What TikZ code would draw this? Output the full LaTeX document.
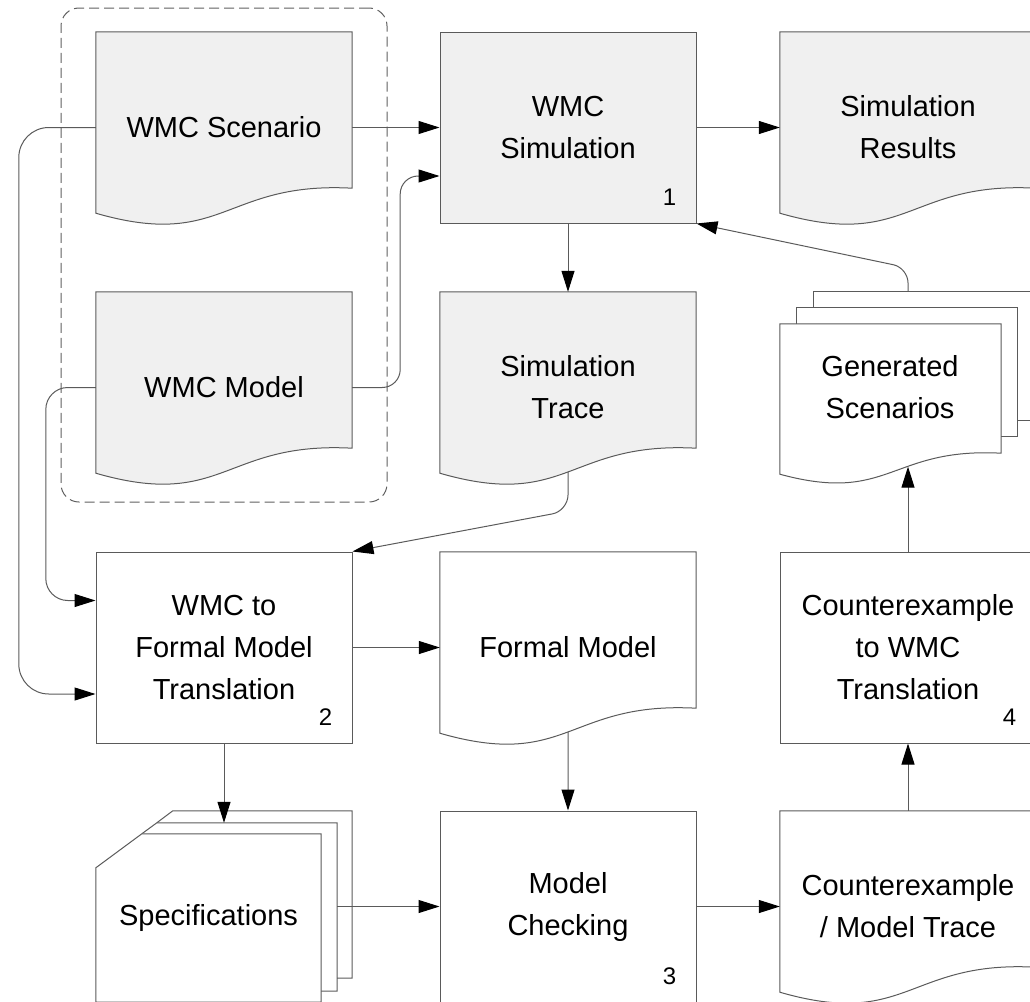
\documentclass[tikz,border=0pt]{standalone}
\usepackage{fontspec}
\setmainfont{Liberation Sans}
\usetikzlibrary{arrows.meta}

\definecolor{boxfill}{HTML}{F0F0F0}
\definecolor{edge}{HTML}{5A5A5A}
\definecolor{groupline}{HTML}{606060}

\pgfdeclarelayer{bg}
\pgfsetlayers{bg,main}

\tikzset{
  block/.style={minimum width=256pt, minimum height=191pt, inner sep=0pt,
    align=center, text=black, font=\fontsize{29}{42}\selectfont},
  procbox/.style={block, draw=edge, line width=1pt},
  docbox/.style={block},
  labeltext/.style={inner sep=0pt, align=center, text=black,
    font=\fontsize{29}{42}\selectfont},
  shaded/.style={fill=boxfill},
  docline/.style={draw=edge, line width=1pt, fill=white},
  stubline/.style={draw=edge, line width=1pt},
  num/.style={inner sep=0pt, text=black, font=\fontsize{24}{28}\selectfont},
  groupbox/.style={draw=groupline, line width=1pt, dash pattern=on 10pt off 5pt,
    rounded corners=18pt, minimum width=326pt, minimum height=494pt, inner sep=0pt},
  flow/.style={draw=edge, line width=1pt,
    -{Triangle[length=21pt,width=13pt,color=black]}},
}

% document outline with a wavy lower edge; #2-w marks the middle of the wave
\newcommand\docshape[2][]{%
  \draw[docline,#1] (#2.north west) -- (#2.north east) -- ([yshift=35pt]#2.south east)
    .. controls ([yshift=42pt]#2.south) and ([yshift=-27pt]#2.south) .. ([yshift=10pt]#2.south west)
    coordinate[pos=0.5] (#2-w) -- cycle;}

\begin{document}
\begin{tikzpicture}[x=1pt,y=-1pt]
\useasboundingbox (0,0) rectangle (1030,1001);

% inputs grouped by a dashed frame
\node[groupbox] (grp) at (224,255) {};

% process steps
\node[procbox, shaded] (sim) at (568,127.5) {WMC\\Simulation};
\node[procbox] (tr)  at (224,647.5) {WMC to\\Formal Model\\Translation};
\node[procbox] (mc)  at (568,906.5) {Model\\Checking};
\node[procbox] (ctw) at (908,647.5) {Counterexample\\to WMC\\Translation};

\node[num] (sim-n) at ([xshift=-27pt,yshift=26pt]sim.south east) {1};
\node[num] (tr-n)  at ([xshift=-27pt,yshift=26pt]tr.south east) {2};
\node[num] (mc-n)  at ([xshift=-27pt,yshift=26pt]mc.south east) {3};
\node[num] (ctw-n) at ([xshift=-27pt,yshift=26pt]ctw.south east) {4};

% documents
\node[docbox] (scen)  at (224,127.5) {WMC Scenario};
\node[docbox] (model) at (224,387.5) {WMC Model};
\node[docbox] (res)   at (908,127.5) {Simulation\\Results};
\node[docbox] (trace) at (568,387.5) {Simulation\\Trace};
\node[docbox] (fm)    at (568,647.5) {Formal Model};
\node[docbox] (cmt)   at (908,906.5) {Counterexample\\/ Model Trace};

% stacked documents and stacked cards
\node[docbox] (gen)  at (908,387.5) {};
\node[labeltext] (gen-t) at (890,387.5) {Generated\\Scenarios};
\node[docbox] (spec) at (224,906.5) {};
\node[labeltext] (spec-t) at (208.5,918) {Specifications};

\begin{pgfonlayer}{bg}
  \docshape[shaded]{scen}
  \docshape[shaded]{model}
  \docshape[shaded]{res}
  \docshape[shaded]{trace}
  \docshape{fm}
  \docshape{cmt}

  % generated scenarios: three sheets
  \draw[stubline] ([xshift=34pt,yshift=-16pt]gen.north west) -- ([xshift=34pt]gen.north west)
    -- (gen.north east) -- ([yshift=63pt]gen.south east) -- ([xshift=-19pt,yshift=63pt]gen.south east);
  \draw[stubline] ([xshift=17pt,yshift=-32pt]gen.north west) -- ([xshift=17pt,yshift=-16pt]gen.north west)
    -- ([xshift=-19pt,yshift=-16pt]gen.north east) -- ([xshift=-19pt,yshift=47pt]gen.south east)
    -- ([xshift=-35pt,yshift=47pt]gen.south east);
  \draw[docline] ([yshift=-32pt]gen.north west) -- ([xshift=-35pt,yshift=-32pt]gen.north east)
    -- ([xshift=-35pt,yshift=30pt]gen.south east)
    .. controls ([xshift=-18pt,yshift=36pt]gen.south) and ([xshift=-18pt,yshift=-21pt]gen.south)
    .. ([yshift=9pt]gen.south west) coordinate[pos=0.4] (gen-w) -- cycle;

  % specifications: three cut-corner cards
  \draw[stubline] ([xshift=61pt,yshift=-12pt]spec.north west) -- ([xshift=77pt]spec.north west)
    -- (spec.north east) -- ([yshift=24pt]spec.south east) -- ([xshift=-15pt,yshift=24pt]spec.south east);
  \draw[stubline] ([xshift=46pt,yshift=-23pt]spec.north west) -- ([xshift=61pt,yshift=-12pt]spec.north west)
    -- ([xshift=-15pt,yshift=-12pt]spec.north east) -- ([xshift=-15pt,yshift=11pt]spec.south east)
    -- ([xshift=-31pt,yshift=11pt]spec.south east);
  \draw[docline] ([yshift=-57pt]spec.north west) -- ([xshift=46pt,yshift=-23pt]spec.north west)
    -- ([xshift=-31pt,yshift=-23pt]spec.north east) -- ([xshift=-31pt]spec.south east)
    -- (spec.south west) -- cycle;
\end{pgfonlayer}

% connectors
\draw[flow] (scen.east) -- (scen.east -| sim.west);
\draw[flow, rounded corners=18pt] (model.east) -- ++(48,0) |- ([yshift=-48.5pt]sim.west);
\draw[flow, rounded corners=30pt] (scen.west) -- ++(-77,0) |- ([yshift=-46.5pt]tr.west);
\draw[flow, rounded corners=22pt] (model.west) -- ++(-50,0) |- ([yshift=47pt]tr.west);
\draw[flow] (sim.east) -- (res.west);
\draw[flow] (sim.south) -- (trace.north);
\draw[flow, rounded corners=16pt] (trace-w) -- ++(0,39) -- (tr.north east);
\draw[flow] (tr.east) -- (fm.west);
\draw[flow] (fm-w) -- (mc.north);
\draw[flow] (tr.south) -- ([yshift=-12pt]spec.north);
\draw[flow] ([xshift=-15pt]spec.east) -- (mc.west);
\draw[flow] (mc.east) -- (cmt.west);
\draw[flow] (cmt.north) -- (ctw.south);
\draw[flow] (ctw.north) -- (ctw.north |- gen-w);
\draw[flow, rounded corners=15pt] (gen.north) -- ++(0,-24) -- (sim.south east);
\end{tikzpicture}
\end{document}
